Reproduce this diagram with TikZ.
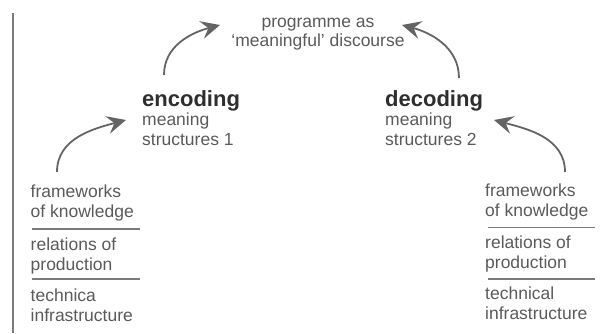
\documentclass[tikz,border=0pt]{standalone}
\usepackage{fontspec}
\setmainfont{Liberation Sans}
\usetikzlibrary{arrows.meta}
\definecolor{txtgray}{HTML}{5A5A5A}
\definecolor{boldgray}{HTML}{2E2E2E}
\definecolor{rulegray}{HTML}{7A7A7A}
\definecolor{arrgray}{HTML}{646464}
\begin{document}
\begin{tikzpicture}[x=1pt, y=1pt,
  txt/.style={inner sep=0pt, align=left, anchor=base west, text=txtgray,
    font=\fontsize{17.5}{20}\selectfont},
  head/.style={txt, text=boldgray, font=\fontsize{22}{20}\bfseries\selectfont},
  sep/.style={rulegray, line width=1.2pt},
  arr/.style={arrgray, line width=1.8pt,
    -{Stealth[length=19pt, width=18pt, inset=7pt]}}]

\useasboundingbox (0,0) rectangle (603,333);

% margin rule on the left
\coordinate (rtop) at (12.5,320);
\coordinate (rbot) at (12.5,0);
\draw[rulegray, line width=2pt] (rtop)--(rbot);

% programme in the middle
\node[txt, anchor=base, align=center, font=\fontsize{17.5}{19}\selectfont] (prog) at (318,287)
  {programme as\\`meaningful' discourse};

% the two moments
\node[head] (enc) at (142,227) {encoding};
\node[txt] (enct) at (142,188) {meaning\\structures 1};
\node[head] (dec) at (385,227) {decoding};
\node[txt] (dect) at (385,188) {meaning\\structures 2};

% left stack
\node[txt] (lfw) at (30.5,116) {frameworks\\of knowledge};
\node[txt] (lrp) at (30.5,63) {relations of\\production};
\node[txt] (lti) at (30.5,12) {technica\\infrastructure};
\draw[sep] (31.5,104)--(139.5,104);
\draw[sep] (31.5,54)--(139.5,54);

% right stack
\node[txt] (rfw) at (485,117) {frameworks\\of knowledge};
\node[txt] (rrp) at (485,65) {relations of\\production};
\node[txt] (rti) at (485,14) {technical\\infrastructure};
\draw[sep] (488,105.5)--(595,105.5);
\draw[sep] (488,54)--(595,54);

% arrows
\coordinate (a1) at (57,161);  \coordinate (b1) at (126,213);
\coordinate (a2) at (164,258); \coordinate (b2) at (220,308);
\coordinate (a3) at (459,255); \coordinate (b3) at (402,308);
\coordinate (a4) at (565,161); \coordinate (b4) at (494,213);
\draw[arr] (a1) to[out=90, in=195] (b1);
\draw[arr] (a2) to[out=90, in=195] (b2);
\draw[arr] (a3) to[out=90, in=-15] (b3);
\draw[arr] (a4) to[out=90, in=-15] (b4);

\end{tikzpicture}
\end{document}
